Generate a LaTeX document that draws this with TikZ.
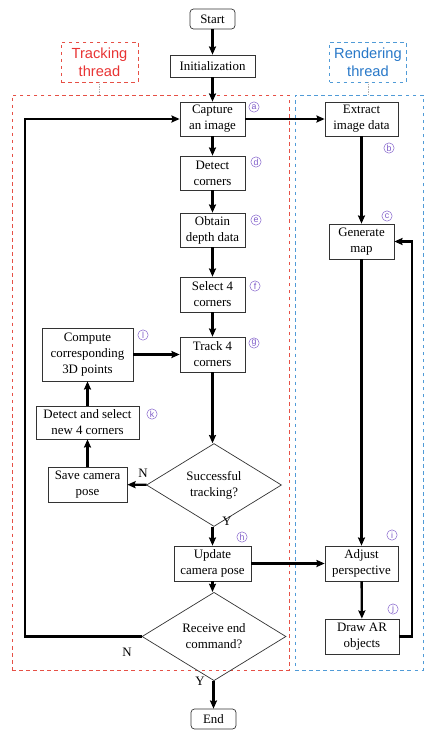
\documentclass[tikz,border=0pt]{standalone}
\usepackage{fontspec}
\setmainfont{Liberation Serif}
\newfontfamily\threadfont{Liberation Sans}
\usepackage{tikz}
\usetikzlibrary{calc, positioning, arrows.meta, shapes.geometric}
\usepackage{xcolor}
\definecolor{trackred}{RGB}{232, 52, 52}
\definecolor{renderblue}{RGB}{40, 120, 200}
\definecolor{framered}{RGB}{230, 80, 70}
\definecolor{frameblue}{RGB}{80, 155, 215}
\definecolor{steppurple}{RGB}{125, 90, 200}
\tikzset{
    procbox/.style={rectangle, draw=black!80, line width=0.6pt, align=center, inner sep=1pt, font=\fontsize{11}{13.6}\selectfont},
    termbox/.style={procbox, rounded corners=3pt, minimum width=1.35cm, minimum height=0.6cm},
    decisionbox/.style={diamond, draw=black!80, line width=0.6pt, align=center, inner sep=0pt, font=\fontsize{11}{13.6}\selectfont},
    flowarrow/.style={-{Stealth[length=7pt, width=6pt, inset=1pt]}, line width=2pt},
    threadlabel/.style={rectangle, dashed, line width=0.7pt, align=center, minimum width=2.31cm, minimum height=1.2cm, font=\threadfont\fontsize{12.5}{15}\selectfont},
    threadframe/.style={rectangle, dashed, line width=0.7pt, minimum height=17.25cm},
    steptag/.style={circle, draw=steppurple, line width=0.4pt, text=steppurple, inner sep=0pt, minimum size=0.31cm, font=\threadfont\fontsize{7.5}{8}\selectfont},
    yn/.style={font=\fontsize{11}{12}\selectfont, inner sep=0pt}
}

\begin{document}
\begin{tikzpicture}[x=0.03cm, y=-0.03cm]
            \useasboundingbox (0,0) rectangle (433,743);

            % thread frames and their labels
            \node[threadframe, draw=framered, minimum width=8.31cm] (trackframe) at (150.5,382.5) {};
            \node[threadframe, draw=frameblue, minimum width=3.84cm] (renderframe) at (359,382.5) {};
            \node[threadlabel, draw=framered, text=trackred] (tracklabel) at (99.5,62) {Tracking\\thread};
            \node[threadlabel, draw=frameblue, text=renderblue] (renderlabel) at (368,62) {Rendering\\thread};
            \draw[black!30, densely dotted] (tracklabel.south) -- (tracklabel.south |- trackframe.north);
            \draw[black!30, densely dotted] (renderlabel.south) -- (renderlabel.south |- renderframe.north);

            % main flow
            \node[termbox] (start) at (212.5,19) {Start};
            \node[procbox, minimum width=2.55cm, minimum height=0.66cm] (init) at (212.5,66) {Initialization};
            \node[procbox, minimum width=1.95cm, minimum height=1.02cm] (capture) at (212.5,119) {Capture\\an image};
            \node[procbox, minimum width=1.95cm, minimum height=1.02cm] (detect) at (212.5,173) {Detect\\corners};
            \node[procbox, minimum width=1.95cm, minimum height=1.02cm] (depth) at (212.5,230) {Obtain\\depth data};
            \node[procbox, minimum width=1.95cm, minimum height=1.05cm] (select) at (212.5,294.5) {Select 4\\corners};
            \node[procbox, minimum width=1.95cm, minimum height=1.05cm] (track) at (212.5,354.5) {Track 4\\corners};
            \node[decisionbox, minimum width=4.05cm, minimum height=1.41cm] (success) at (214,485) {Successful\\tracking?};
            \node[procbox, minimum width=2.31cm, minimum height=1.05cm] (update) at (212.5,563.5) {Update\\camera pose};
            \node[decisionbox, minimum width=4.32cm, minimum height=1.53cm] (endq) at (214,636.5) {Receive end\\command?};
            \node[termbox] (finish) at (213.5,719) {End};

            % recovery branch
            \node[procbox, minimum width=2.37cm, minimum height=1.05cm] (savepose) at (87.5,484.5) {Save camera\\pose};
            \node[procbox, minimum width=3.09cm, minimum height=0.99cm] (reselect) at (87.5,422.5) {Detect and select\\new 4 corners};
            \node[procbox, minimum width=2.73cm, minimum height=1.59cm] (compute) at (87.5,354.5) {Compute\\corresponding\\3D points};

            % rendering thread
            \node[procbox, minimum width=2.19cm, minimum height=1.02cm] (extract) at (361.5,119) {Extract\\image data};
            \node[procbox, minimum width=1.95cm, minimum height=1.05cm] (genmap) at (361.5,241.5) {Generate\\map};
            \node[procbox, minimum width=2.19cm, minimum height=1.05cm] (adjust) at (361.5,563.5) {Adjust\\perspective};
            \node[procbox, minimum width=2.22cm, minimum height=1.05cm] (drawar) at (362,636.5) {Draw AR\\objects};

            % step tags
            \node[steptag] (taga) at (254,107) {a};
            \node[steptag] (tagb) at (389,148) {b};
            \node[steptag] (tagc) at (387,216) {c};
            \node[steptag] (tagd) at (256,162) {d};
            \node[steptag] (tage) at (256,220) {e};
            \node[steptag] (tagf) at (255,286) {f};
            \node[steptag] (tagg) at (254,343) {g};
            \node[steptag] (tagh) at (242,537) {h};
            \node[steptag] (tagi) at (392,535) {i};
            \node[steptag] (tagj) at (393,609) {j};
            \node[steptag] (tagk) at (152,414) {k};
            \node[steptag] (tagl) at (143,335) {l};

            % connectors
            \draw[flowarrow] (start) -- (init);
            \draw[flowarrow] (init) -- (capture);
            \draw[flowarrow] (capture) -- (detect);
            \draw[flowarrow] (detect) -- (depth);
            \draw[flowarrow] (depth) -- (select);
            \draw[flowarrow] (select) -- (track);
            \draw[flowarrow] (track) -- (track |- success.north);
            \draw[flowarrow] (success.south -| update) -- (update);
            \draw[flowarrow] (update) -- (update |- endq.north);
            \draw[flowarrow] (endq.south -| finish) -- (finish);
            \draw[flowarrow] (success) -- (savepose);
            \draw[flowarrow] (savepose) -- (reselect);
            \draw[flowarrow] (reselect) -- (compute);
            \draw[flowarrow] (compute) -- (track);
            \draw[flowarrow] (capture) -- (extract);
            \draw[flowarrow] (extract) -- (genmap);
            \draw[flowarrow] (genmap) -- (adjust);
            \draw[flowarrow] (update) -- (adjust);
            \draw[flowarrow] (adjust) -- (drawar);

            % loops
            \coordinate (loopleft) at (25,636.5);
            \coordinate (loopright) at (412,636.5);
            \draw[flowarrow] (endq.west) -- (loopleft) |- (capture.west);
            \draw[flowarrow] (drawar.east) -- (loopright) |- (genmap.east);

            \node[yn] (succno) at (143,473) {N};
            \node[yn] (succyes) at (227,521) {Y};
            \node[yn] (endno) at (127,652) {N};
            \node[yn] (endyes) at (200,681) {Y};
        \end{tikzpicture}
\end{document}
